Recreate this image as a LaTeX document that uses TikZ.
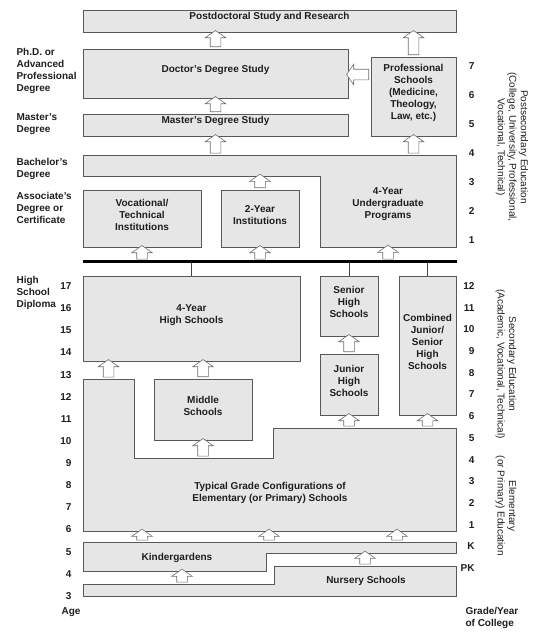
\documentclass[tikz,border=0pt]{standalone}
\usepackage{fontspec}
\setmainfont{Liberation Sans}
\usetikzlibrary{shapes.arrows,calc,fit}
\definecolor{colFill}{HTML}{E6E6E6}
\definecolor{colLine}{HTML}{585858}
\definecolor{colArr} {HTML}{6E6E6E}
\definecolor{colText}{HTML}{1E1E1E}
\newcommand{\boxfont}{\bfseries\fontsize{10}{12}\selectfont}
\tikzset{
  %% school boxes
  box/.style={draw=colLine, line width=0.8pt, fill=colFill, inner sep=0pt,
              align=center, font=\boxfont, text=colText},
  shapebox/.style={draw=colLine, line width=0.8pt, fill=colFill},
  txt/.style={align=center, font=\boxfont, text=colText},
  %% side labels
  lbl/.style={anchor=west, align=left, font=\boxfont, text=colText},
  num/.style={anchor=east, font=\boxfont, text=colText},
  side/.style={rotate=-90, align=center, font=\fontsize{10}{11.5}\selectfont,
               text=colText},
  %% hollow block arrows
  barrow/.style={single arrow, draw=colArr, fill=white, line width=0.6pt,
                 inner xsep=0pt, inner ysep=5pt, single arrow head extend=5pt,
                 single arrow tip angle=110, single arrow head indent=0pt},
  bar/.style={line width=3pt, draw=black},
  link/.style={line width=0.7pt, draw=colLine!80!black}
}
% block arrow from #1 to #2
\newcommand{\blockarr}[2]{%
  \path let \p1=#1, \p2=#2,
            \n1={veclen(\x2-\x1,\y2-\y1)},
            \n2={atan2(\y2-\y1,\x2-\x1)} in
        node[barrow, minimum height=\n1, rotate=\n2] at ($(\p1)!0.5!(\p2)$) {};}

\begin{document}
\begin{tikzpicture}[x=1pt, y=-1pt]
\useasboundingbox (0,0) rectangle (540,642);

% ---------------- postsecondary ----------------
\node[box, fit={(83,10) (456,32)}] (post) {Postdoctoral Study and Research};
\node[box, fit={(83,49) (348,98)}] (doc) {Doctor's Degree Study};
\node[box, fit={(83,114) (348,136)}] (mast) {Master's Degree Study};
\node[box, fit={(371,57) (456,136)}] (prof)
     {Professional\\Schools\\(Medicine,\\Theology,\\Law, etc.)};

\draw[shapebox] (83,155) -- (456,155) -- (456,247) -- (320,247)
                -- (320,176) -- (83,176) -- cycle;
\coordinate (bachN) at (0,155);
\coordinate (bachS) at (0,176);
\coordinate (ugradS) at (0,247);
\node[txt] (ugrad) at (388,204) {4-Year\\Undergraduate\\Programs};

\node[box, fit={(83,190) (201,247)}] (voc) {Vocational/\\Technical\\Institutions};
\node[box, fit={(221,190) (299,247)}] (twoyr) {2-Year\\Institutions};

\coordinate (profL) at ($(prof.west)+(0,-22)$);
\blockarr{(doc.north)}{(doc.north |- post.south)}
\blockarr{(prof.north)}{(prof.north |- post.south)}
\blockarr{(mast.north)}{(doc.south)}
\blockarr{(profL)}{(doc.east |- profL)}
\blockarr{(mast.south |- bachN)}{(mast.south)}
\blockarr{(prof.south |- bachN)}{(prof.south)}
\blockarr{(twoyr.north)}{(twoyr.north |- bachS)}

% ---------------- diploma bar ----------------
\coordinate (barL) at (83,261);
\coordinate (barR) at (457,261);
\blockarr{(voc.south |- barL)}{(voc.south)}
\blockarr{(twoyr.south |- barL)}{(twoyr.south)}
\blockarr{(ugrad |- barL)}{(ugrad |- ugradS)}

% ---------------- secondary ----------------
\node[box, fit={(83,276) (300,361)}] (hs4) {4-Year\\High Schools};
\node[box, fit={(320,276) (378,336)}] (senior) {Senior\\High\\Schools};
\node[box, fit={(320,354) (378,415)}] (junior) {Junior\\High\\Schools};
\node[box, fit={(399,276) (456,415)}] (comb)
     {Combined\\Junior/\\Senior\\High\\Schools};
\node[box, fit={(154,379) (252,440)}] (middle) {Middle\\Schools};

\draw[link] (hs4.north) -- (hs4.north |- barL);
\draw[link] (senior.north) -- (senior.north |- barL);
\draw[link] (comb.north) -- (comb.north |- barL);
\draw[bar] (barL) -- (barR);

% ---------------- elementary ----------------
\draw[shapebox] (83,379) -- (134,379) -- (134,458) -- (273,458) -- (273,428)
                -- (456,428) -- (456,531) -- (83,531) -- cycle;
\coordinate (elemA) at (108.5,379);
\coordinate (elemM) at (0,458);
\coordinate (elemR) at (0,428);
\coordinate (elemS) at (0,531);
\node[txt] (elem) at (270,493)
     {Typical Grade Configurations of\\Elementary (or Primary) Schools};

\blockarr{(elemA)}{(elemA |- hs4.south)}
\blockarr{(middle.north)}{(middle.north |- hs4.south)}
\blockarr{(middle.south |- elemM)}{(middle.south)}
\blockarr{(junior.north)}{(senior.south)}
\blockarr{(junior.south |- elemR)}{(junior.south)}
\blockarr{(comb.south |- elemR)}{(comb.south)}

% ---------------- kindergarden / nursery ----------------
\draw[shapebox] (83,542) -- (456,542) -- (456,553) -- (266,553)
                -- (266,571) -- (83,571) -- cycle;
\draw[shapebox] (83,584) -- (274,584) -- (274,566) -- (456,566)
                -- (456,596) -- (83,596) -- cycle;
\coordinate (kindN) at (0,542);
\coordinate (kindR) at (0,553);
\coordinate (kindL) at (0,571);
\coordinate (nursL) at (0,584);
\coordinate (nursR) at (0,566);
\node[txt] (kinder) at (177,558) {Kindergardens};
\node[txt] (nursery) at (366,581) {Nursery Schools};

\foreach \kx in {142,269,397}{
  \coordinate (kA) at ($(kindN)+(\kx,0)$);
  \coordinate (kB) at ($(elemS)+(\kx,0)$);
  \blockarr{(kA)}{(kB)}
}
\coordinate (nA) at ($(nursL)+(182,0)$);
\coordinate (nB) at ($(nursR)+(365,0)$);
\blockarr{(nA)}{(nA |- kindL)}
\blockarr{(nB)}{(nB |- kindR)}

% ---------------- left labels ----------------
\node[lbl] (phd) at (13,71) {Ph.D. or\\Advanced\\Professional\\Degree};
\node[lbl] (mdeg) at (13,124) {Master's\\Degree};
\node[lbl] (bdeg) at (13,169) {Bachelor's\\Degree};
\node[lbl] (adeg) at (13,208) {Associate's\\Degree or\\Certificate};
\node[lbl] (hsd) at (13,293) {High\\School\\Diploma};

\foreach \a [count=\i from 0] in {17,16,...,3}
  \node[num] (age\a) at (75,{286+\i*22.14}) {\a};
\node[txt] (age) at (71,612) {Age};

% ---------------- right labels ----------------
\foreach \g [count=\i from 0] in {7,6,...,1}
  \node[num] (yr\g) at (478,{66+\i*29}) {\g};
\foreach \g [count=\i from 0] in {12,11,10,9,8,7,6,5,4,3,2,1,K,PK}
  \node[num] (gr\i) at (478,{286+\i*21.7}) {\g};
\node[lbl] (grade) at (462,618) {Grade/Year\\of College};

\node[side] (postsec) at (512,147)
     {Postsecondary Education\\(College, University, Professional,\\Vocational, Technical)};
\node[side] (secnd) at (506,364)
     {Secondary Education\\(Academic, Vocational, Technical)};
\node[side] (elemtx) at (506,506) {Elementary\\(or Primary) Education};

\end{tikzpicture}
\end{document}
